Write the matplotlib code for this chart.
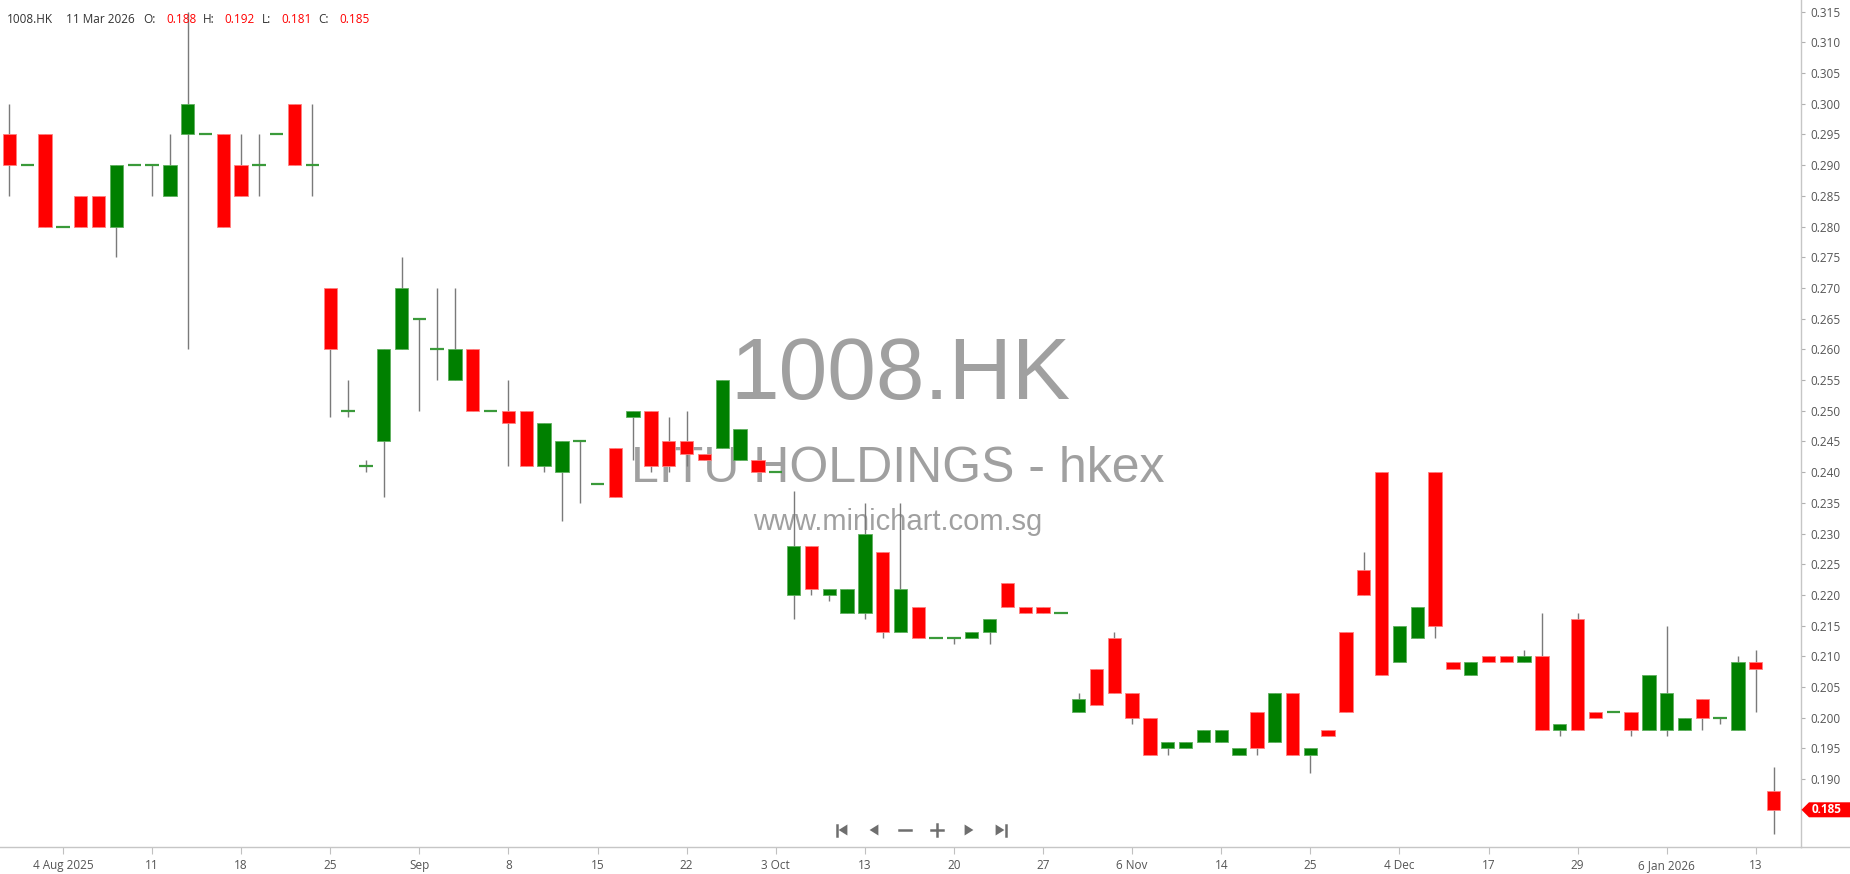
import matplotlib
matplotlib.use("Agg")
import matplotlib.pyplot as plt
from matplotlib.patches import Polygon
from matplotlib.lines import Line2D

# ---------------- data ----------------
opens = [0.295, 0.290, 0.295, 0.280, 0.285, 0.285, 0.280, 0.290, 0.290, 0.285,
         0.295, 0.295, 0.295, 0.290, 0.290, 0.295, 0.300, 0.290, 0.270, 0.250,
         0.241, 0.245, 0.260, 0.265, 0.260, 0.255, 0.260, 0.250, 0.250, 0.250,
         0.241, 0.240, 0.245, 0.238, 0.244, 0.249, 0.250, 0.245, 0.245, 0.243,
         0.244, 0.242, 0.242, 0.240, 0.220, 0.228, 0.220, 0.217, 0.217, 0.227,
         0.214, 0.218, 0.213, 0.213, 0.213, 0.214, 0.222, 0.218, 0.218, 0.217,
         0.201, 0.208, 0.213, 0.204, 0.200, 0.195, 0.195, 0.196, 0.196, 0.194,
         0.201, 0.196, 0.204, 0.194, 0.198, 0.214, 0.224, 0.240, 0.209, 0.213,
         0.240, 0.209, 0.207, 0.210, 0.210, 0.209, 0.210, 0.198, 0.216, 0.201,
         0.201, 0.201, 0.198, 0.198, 0.198, 0.203, 0.200, 0.198, 0.209, 0.188]
highs = [0.300, 0.290, 0.295, 0.280, 0.285, 0.285, 0.290, 0.290, 0.290, 0.295,
         0.315, 0.295, 0.295, 0.295, 0.295, 0.295, 0.300, 0.300, 0.270, 0.255,
         0.242, 0.260, 0.275, 0.265, 0.270, 0.270, 0.260, 0.250, 0.255, 0.250,
         0.248, 0.245, 0.245, 0.238, 0.244, 0.250, 0.250, 0.249, 0.250, 0.243,
         0.255, 0.247, 0.242, 0.240, 0.237, 0.228, 0.221, 0.221, 0.235, 0.227,
         0.235, 0.218, 0.213, 0.213, 0.214, 0.216, 0.222, 0.218, 0.218, 0.217,
         0.204, 0.208, 0.214, 0.204, 0.200, 0.196, 0.196, 0.198, 0.198, 0.195,
         0.201, 0.204, 0.204, 0.195, 0.198, 0.214, 0.227, 0.240, 0.215, 0.218,
         0.240, 0.209, 0.209, 0.210, 0.210, 0.211, 0.217, 0.199, 0.217, 0.201,
         0.201, 0.201, 0.207, 0.215, 0.200, 0.203, 0.200, 0.210, 0.211, 0.192]
lows = [0.285, 0.290, 0.280, 0.280, 0.280, 0.280, 0.275, 0.290, 0.285, 0.285,
        0.260, 0.295, 0.280, 0.285, 0.285, 0.295, 0.290, 0.285, 0.249, 0.249,
        0.240, 0.236, 0.260, 0.250, 0.255, 0.255, 0.250, 0.250, 0.241, 0.241,
        0.240, 0.232, 0.235, 0.238, 0.236, 0.242, 0.240, 0.240, 0.241, 0.242,
        0.244, 0.242, 0.240, 0.240, 0.216, 0.220, 0.219, 0.217, 0.216, 0.213,
        0.214, 0.213, 0.213, 0.212, 0.213, 0.212, 0.218, 0.217, 0.217, 0.217,
        0.201, 0.202, 0.204, 0.199, 0.194, 0.194, 0.195, 0.196, 0.196, 0.194,
        0.194, 0.196, 0.194, 0.191, 0.197, 0.201, 0.220, 0.207, 0.209, 0.213,
        0.213, 0.208, 0.207, 0.209, 0.209, 0.209, 0.198, 0.197, 0.198, 0.200,
        0.201, 0.197, 0.198, 0.197, 0.198, 0.198, 0.199, 0.198, 0.201, 0.181]
closes = [0.290, 0.290, 0.280, 0.280, 0.280, 0.280, 0.290, 0.290, 0.290, 0.290,
          0.300, 0.295, 0.280, 0.285, 0.290, 0.295, 0.290, 0.290, 0.260, 0.250,
          0.241, 0.260, 0.270, 0.265, 0.260, 0.260, 0.250, 0.250, 0.248, 0.241,
          0.248, 0.245, 0.245, 0.238, 0.236, 0.250, 0.241, 0.241, 0.243, 0.242,
          0.255, 0.247, 0.240, 0.240, 0.228, 0.221, 0.221, 0.221, 0.230, 0.214,
          0.221, 0.213, 0.213, 0.213, 0.214, 0.216, 0.218, 0.217, 0.217, 0.217,
          0.203, 0.202, 0.204, 0.200, 0.194, 0.196, 0.196, 0.198, 0.198, 0.195,
          0.195, 0.204, 0.194, 0.195, 0.197, 0.201, 0.220, 0.207, 0.215, 0.218,
          0.215, 0.208, 0.209, 0.209, 0.209, 0.210, 0.198, 0.199, 0.198, 0.200,
          0.201, 0.198, 0.207, 0.204, 0.200, 0.200, 0.200, 0.209, 0.208, 0.185]

tick_positions = [3, 8, 13, 18, 23, 28, 33, 38, 43, 48,
                  53, 58, 63, 68, 73, 78, 83, 88, 93, 98]
tick_labels = ["4 Aug 2025", "11", "18", "25", "Sep", "8", "15", "22", "3 Oct", "13",
               "20", "27", "6 Nov", "14", "25", "4 Dec", "17", "29", "6 Jan 2026", "13"]
price_ticks = [0.190, 0.195, 0.200, 0.205, 0.210, 0.215, 0.220, 0.225, 0.230, 0.235,
               0.240, 0.245, 0.250, 0.255, 0.260, 0.265, 0.270, 0.275, 0.280, 0.285,
               0.290, 0.295, 0.300, 0.305, 0.310, 0.315]

symbol = "1008.HK"
company = "LITU HOLDINGS - hkex"
site = "www.minichart.com.sg"
last_date = "11 Mar 2026"

# ---------------- figure ----------------
W, H = 1850, 874
fig = plt.figure(figsize=(W / 100, H / 100), dpi=100)
fig.patch.set_facecolor("white")

ax_right_px, ax_bottom_px = 1800.7, 846.7
ax = fig.add_axes([0, (H - ax_bottom_px) / H, ax_right_px / W, ax_bottom_px / H])
ax.set_facecolor("white")

n = len(opens)
YMIN, YMAX = 0.17899, 0.31689
ax.set_xlim(-0.533, 100.52)
ax.set_ylim(YMIN, YMAX)

RED = "#ff0000"
GREEN = "#008000"
WICK = "#7a7a7a"
GRID = "#c6c6c6"
TXT = "#555555"
body_w = 0.75

# watermark (behind candles)
wm_color = "#a0a0a0"
ax.text(0.5003, 0.5288, symbol, transform=ax.transAxes, ha="center", va="baseline",
        fontsize=63, color=wm_color, family="Liberation Sans", zorder=0)
ax.text(0.4983, (ax_bottom_px - 482) / ax_bottom_px, company, transform=ax.transAxes,
        ha="center", va="baseline", fontsize=36, color=wm_color, family="Liberation Sans",
        zorder=0)
ax.text(0.4983, (ax_bottom_px - 530) / ax_bottom_px, site, transform=ax.transAxes,
        ha="center", va="baseline", fontsize=21, color=wm_color, family="Liberation Sans",
        zorder=0)

# candles
for i in range(n):
    o, h, l, c = opens[i], highs[i], lows[i], closes[i]
    ax.vlines(i, l, h, color=WICK, linewidth=1.0, zorder=2)
    if abs(c - o) < 1e-9:
        ax.hlines(o, i - body_w / 2, i + body_w / 2, color="#3a9a3a", linewidth=1.6, zorder=3)
    else:
        up = c > o
        col = GREEN if up else RED
        edge = "#5fb05f" if up else "#ff7f7f"
        ax.bar(i, abs(c - o), bottom=min(o, c), width=body_w, color=col,
               edgecolor=edge, linewidth=0.6, zorder=3)

# axes styling
for s in ["top", "left"]:
    ax.spines[s].set_visible(False)
ax.spines["right"].set_color(GRID)
ax.spines["bottom"].set_color(GRID)
ax.spines["right"].set_linewidth(1.0)
ax.spines["bottom"].set_linewidth(1.0)

ax.yaxis.tick_right()
ax.set_yticks(price_ticks)
ax.set_yticklabels([f"{p:.3f}" for p in price_ticks])
ax.tick_params(axis="y", direction="out", length=3, width=0.8, color="#b0b0b0",
               pad=4, labelsize=8.5, labelcolor=TXT)
for lab in ax.get_yticklabels():
    lab.set_family("Open Sans")

ax.set_xticks(tick_positions)
ax.set_xticklabels(tick_labels)
ax.tick_params(axis="x", direction="out", length=5, width=0.8, color="#c0c0c0",
               pad=4, labelsize=8.5, labelcolor=TXT)
for lab in ax.get_xticklabels():
    lab.set_family("Open Sans")


def fx(x):
    return x / W


def fy(y):
    return 1 - y / H


# bottom line continues under the price axis
fig.add_artist(Line2D([fx(ax_right_px), 1.0], [fy(ax_bottom_px), fy(ax_bottom_px)],
                      color=GRID, linewidth=1.0, transform=fig.transFigure))

# last-price tag
last = closes[-1]
ty = ax_bottom_px - (last - YMIN) / (YMAX - YMIN) * ax_bottom_px
tag = Polygon([(fx(1801.5), fy(ty)), (fx(1809), fy(ty - 7.5)), (fx(1850), fy(ty - 7.5)),
               (fx(1850), fy(ty + 7.5)), (fx(1809), fy(ty + 7.5))],
              closed=True, facecolor=RED, edgecolor="none", transform=fig.transFigure,
              zorder=5)
fig.add_artist(tag)
fig.text(fx(1812), fy(ty), f"{last:.3f}", color="white", fontsize=8.5, fontweight="bold",
         va="center", ha="left", family="Open Sans", zorder=6)

# header
hdr_y = fy(23)
hdr = [(6.7, symbol, "#333333"), (66, last_date, "#333333"), (143, "O:", "#333333"),
       (166, f"{opens[-1]:.3f}", RED), (203, "H:", "#333333"), (224, f"{highs[-1]:.3f}", RED),
       (262, "L:", "#333333"), (281, f"{lows[-1]:.3f}", RED), (318, "C:", "#333333"),
       (339, f"{closes[-1]:.3f}", RED)]
for x, t, col in hdr:
    fig.text(fx(x), hdr_y, t, color=col, fontsize=8.5, family="Open Sans",
             ha="left", va="baseline")

# navigation icons
NAV = "#6e6e6e"
cy = 830
s = 5.5


def tri(cx, left=True):
    if left:
        pts = [(cx + s * 0.8, cy - s), (cx + s * 0.8, cy + s), (cx - s * 0.8, cy)]
    else:
        pts = [(cx - s * 0.8, cy - s), (cx - s * 0.8, cy + s), (cx + s * 0.8, cy)]
    fig.add_artist(Polygon([(fx(a), fy(b)) for a, b in pts], closed=True, facecolor=NAV,
                           edgecolor="none", transform=fig.transFigure))


def seg(x0, y0, x1, y1, lw=1.8):
    fig.add_artist(Line2D([fx(x0), fx(x1)], [fy(y0), fy(y1)], color=NAV, linewidth=lw,
                          transform=fig.transFigure))


tri(843, True)
seg(837, cy - s, 837, cy + s)
tri(874, True)
seg(899, cy, 911, cy)
seg(931, cy, 943, cy)
seg(937, cy - 6, 937, cy + 6)
tri(969, False)
tri(1000, False)
seg(1006, cy - s, 1006, cy + s)

fig.savefig("out.png", dpi=100, facecolor="white")
